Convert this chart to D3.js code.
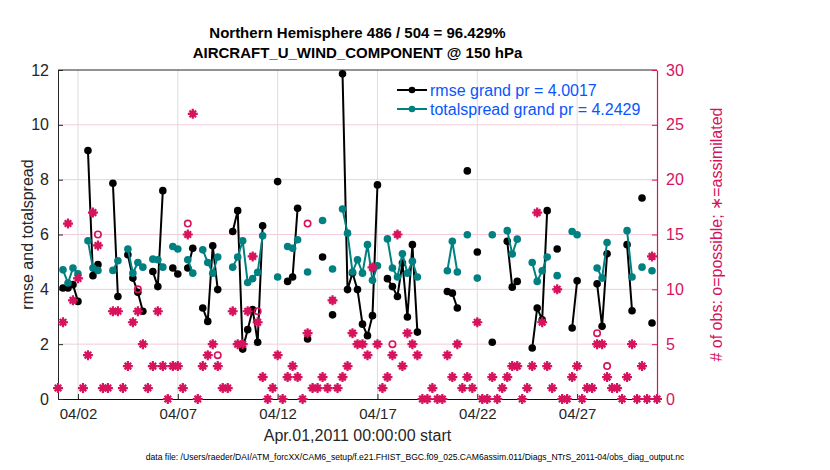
<!DOCTYPE html>
<html><head><meta charset="utf-8">
<script src="https://cdn.jsdelivr.net/npm/d3@7"></script>
<style>body{margin:0;background:#fff}svg{font-family:"Liberation Sans",Arial,sans-serif}</style>
</head><body><svg id="c" width="830" height="470"></svg>
<script>
const titleLines = ["Northern Hemisphere 486 / 504 = 96.429%", "AIRCRAFT_U_WIND_COMPONENT @ 150 hPa"];
const startDate = "2011-04-01T00:00:00Z";
const binHours = 6;
const nBins = 121;
// rmse per 6-hour bin (null = no value)
const rmse = [null,4.05,4.05,4.17,3.56,null,9.06,4.5,4.9,null,
  null,7.87,3.74,null,5.26,4.41,3.89,3.2,null,4.65,
  4.1,7.6,null,4.78,4.56,null,4.78,5.5,null,3.32,
  2.83,5.59,3.99,null,null,6.11,6.87,1.82,2.53,3.26,
  2.07,6.32,null,null,7.93,null,4.29,4.45,6.96,null,
  2.19,null,null,5.18,null,3.07,null,11.86,3.99,4.6,
  3.99,2.73,2.31,3.04,7.81,null,4.39,4.1,3.74,4.96,
  2.99,5.63,2.44,null,null,null,null,null,3.92,3.86,
  3.32,null,8.32,null,5.36,null,null,2.07,null,null,
  5.75,4.08,4.29,null,null,1.86,3.32,2.89,6.87,null,
  5.47,null,null,2.59,4.31,null,null,null,4.2,2.65,
  5.3,null,null,null,5.63,3.22,null,7.33,null,2.77,null];
const spread = [null,4.71,4.23,4.78,4.57,null,5.77,4.78,4.69,null,
  null,4.69,5.04,null,5.47,4.59,4.98,4.81,null,5.1,
  5.08,4.81,null,5.56,5.47,null,5.08,4.59,null,5.44,
  4.98,4.59,5.18,null,null,4.81,5.18,5.77,4.25,4.39,
  4.62,5.95,null,null,4.45,null,5.56,5.5,5.81,null,
  4.63,null,null,6.51,null,4.74,null,6.93,6.05,4.63,
  5.08,4.59,5.63,4.33,4.86,null,5.84,4.78,4.45,5.3,
  4.59,5.02,4.45,null,null,null,null,null,4.68,5.75,
  4.63,null,5.99,null,4.41,null,null,5.99,null,null,
  6.14,5.29,5.83,null,null,4.98,4.29,4.68,5.18,null,
  4.5,null,null,6.11,5.99,null,null,null,4.78,4.41,
  5.71,null,null,null,6.14,4.45,null,4.81,null,4.68,null];
const nAssim = [1,7,16,9,11,1,4,17,14,1,
  1,8,8,1,3,7,8,5,1,3,
  8,3,0,3,3,1,15,26,0,3,
  4,5,3,1,1,8,5,5,8,13,
  7,2,0,1,4,0,2,3,2,0,
  6,1,1,2,1,9,1,2,3,6,
  5,5,4,12,5,1,2,4,15,3,
  6,5,4,0,0,1,0,0,4,2,
  5,1,2,1,7,0,0,2,0,1,
  2,3,3,0,1,3,17,7,3,1,
  10,0,0,2,3,0,1,1,5,5,
  2,1,1,0,2,5,0,3,0,13,0];
const nPoss = [1,7,16,9,11,1,4,17,15,1,
  1,8,8,1,3,7,10,5,1,3,
  8,3,0,3,3,1,16,26,0,3,
  4,5,4,1,1,8,5,5,8,13,
  8,2,0,1,4,0,2,3,2,0,
  16,1,1,2,1,9,1,2,3,6,
  5,5,4,12,5,1,2,5,15,3,
  6,5,4,0,0,1,0,0,4,2,
  5,1,2,1,7,0,0,2,0,1,
  2,3,3,0,1,3,17,7,3,1,
  10,0,0,2,3,0,1,1,6,5,
  3,1,1,0,2,5,0,3,0,13,0];
const legendLabels = ["rmse grand pr = 4.0017", "totalspread grand pr = 4.2429"];
const xTickDates = ["2011-04-02","2011-04-07","2011-04-12","2011-04-17","2011-04-22","2011-04-27"];
const yLeftTicks = [0,2,4,6,8,10,12];
const yRightTicks = [0,5,10,15,20,25,30];
const footer = "data file: /Users/raeder/DAI/ATM_forcXX/CAM6_setup/f.e21.FHIST_BGC.f09_025.CAM6assim.011/Diags_NTrS_2011-04/obs_diag_output.nc";

const BLACK="#000", TEAL="#008080", PINK="#d6135c", BLUE="#0a55ff";
const svg = d3.select("#c");
const L=58, R=657, T=70, B=399;
const t0 = new Date(startDate);
const times = d3.range(nBins).map(i => new Date(t0.getTime() + i*binHours*3600e3));
const x = d3.scaleUtc().domain([t0, new Date("2011-05-01T00:00:00Z")]).range([L,R]);
const yL = d3.scaleLinear().domain([0,12]).range([B,T]);
const yR = d3.scaleLinear().domain([0,30]).range([B,T]);

// grids
svg.append("g").selectAll("line").data(yRightTicks.slice(1,-1)).join("line")
  .attr("x1",L).attr("x2",R).attr("y1",d=>yR(d)).attr("y2",d=>yR(d))
  .attr("stroke","#f3cbdc").attr("stroke-width",1);
const xt = xTickDates.map(s=>new Date(s+"T00:00:00Z"));
svg.append("g").selectAll("line").data(xt).join("line")
  .attr("x1",d=>x(d)).attr("x2",d=>x(d)).attr("y1",T).attr("y2",B)
  .attr("stroke","#dcdcdc").attr("stroke-width",1);

// axes
const gxB = svg.append("g").attr("transform",`translate(0,${B})`)
  .call(d3.axisBottom(x).tickValues(xt).tickFormat(d3.utcFormat("%m/%d")).tickSizeInner(-5).tickSizeOuter(0).tickPadding(9));
gxB.select(".domain").attr("stroke","#2a0010");
gxB.selectAll(".tick line").attr("stroke","#222");
gxB.selectAll("text").attr("font-size",15).attr("fill","#262626");
svg.append("line").attr("x1",L).attr("x2",R).attr("y1",T).attr("y2",T).attr("stroke","#262626");
const gyL = svg.append("g").attr("transform",`translate(${L},0)`)
  .call(d3.axisLeft(yL).tickValues(yLeftTicks).tickSizeInner(-5).tickSizeOuter(0).tickPadding(9));
gyL.select(".domain").attr("stroke","#262626");
gyL.selectAll(".tick line").attr("stroke","#262626");
gyL.selectAll("text").attr("font-size",16).attr("fill","#262626");
const gyR = svg.append("g").attr("transform",`translate(${R},0)`)
  .call(d3.axisRight(yR).tickValues(yRightTicks).tickSizeInner(-5).tickSizeOuter(0).tickPadding(9));
gyR.select(".domain").attr("stroke",PINK).attr("stroke-width",1.2);
gyR.selectAll(".tick line").attr("stroke",PINK);
gyR.selectAll("text").attr("font-size",16).attr("fill",PINK);

// series
const pts = (arr) => arr.map((v,i)=>({t:times[i], v})).filter(d=>d.v!=null);
function series(arr, color) {
  const line = d3.line().defined(d=>d.v!=null).x(d=>x(d.t)).y(d=>yL(d.v));
  svg.append("path").datum(arr.map((v,i)=>({t:times[i],v})))
    .attr("d",line).attr("fill","none").attr("stroke",color).attr("stroke-width",2);
  svg.append("g").selectAll("circle").data(pts(arr)).join("circle")
    .attr("cx",d=>x(d.t)).attr("cy",d=>yL(d.v)).attr("r",3.8).attr("fill",color);
}
series(rmse, BLACK);
series(spread, TEAL);

// counts
const cg = svg.append("g").attr("stroke",PINK).attr("fill","none");
nPoss.forEach((p,i)=>{
  if (p !== nAssim[i]) cg.append("circle").attr("cx",x(times[i])).attr("cy",yR(p)).attr("r",3.2).attr("stroke-width",1.6);
});
const ast = "M-5,0H5M0,-5V5M-3.3,-3.3L3.3,3.3M-3.3,3.3L3.3,-3.3";
nAssim.forEach((a,i)=>{
  const g = cg.append("g").attr("transform",`translate(${x(times[i])},${yR(a)})`);
  g.append("path").attr("d","M-4.2,0L0,-4.2L4.2,0L0,4.2Z").attr("fill",PINK).attr("stroke","none");
  g.append("path").attr("d",ast).attr("stroke-width",2.2);
});

// legend
const lg = svg.append("g");
[[BLACK,legendLabels[0],90],[TEAL,legendLabels[1],109]].forEach(([c,t,yy])=>{
  lg.append("line").attr("x1",397).attr("x2",427).attr("y1",yy).attr("y2",yy).attr("stroke",c).attr("stroke-width",2);
  lg.append("circle").attr("cx",412).attr("cy",yy).attr("r",3.3).attr("fill",c);
  lg.append("text").attr("x",430).attr("y",yy+5.5).attr("font-size",16).attr("fill",BLUE).text(t);
});

// titles & labels
svg.append("text").attr("x",(L+R)/2).attr("y",38).attr("text-anchor","middle").attr("font-size",15).attr("font-weight","bold").attr("fill","#000").text(titleLines[0]);
svg.append("text").attr("x",(L+R)/2).attr("y",58).attr("text-anchor","middle").attr("font-size",15).attr("font-weight","bold").attr("fill","#000").text(titleLines[1]);
svg.append("text").attr("transform",`translate(33,${(T+B)/2}) rotate(-90)`).attr("text-anchor","middle").attr("font-size",16).attr("fill","#262626").text("rmse and totalspread");
svg.append("text").attr("transform",`translate(722,${(T+B)/2}) rotate(-90)`).attr("text-anchor","middle").attr("font-size",16).attr("fill",PINK).text("# of obs: o=possible; \u2217=assimilated");
svg.append("text").attr("x",(L+R)/2).attr("y",441).attr("text-anchor","middle").attr("font-size",16).attr("fill","#262626").text("Apr.01,2011 00:00:00 start");
svg.append("text").attr("x",415).attr("y",460).attr("text-anchor","middle").attr("font-size",8.6).attr("fill","#000").text(footer);
</script></body></html>
